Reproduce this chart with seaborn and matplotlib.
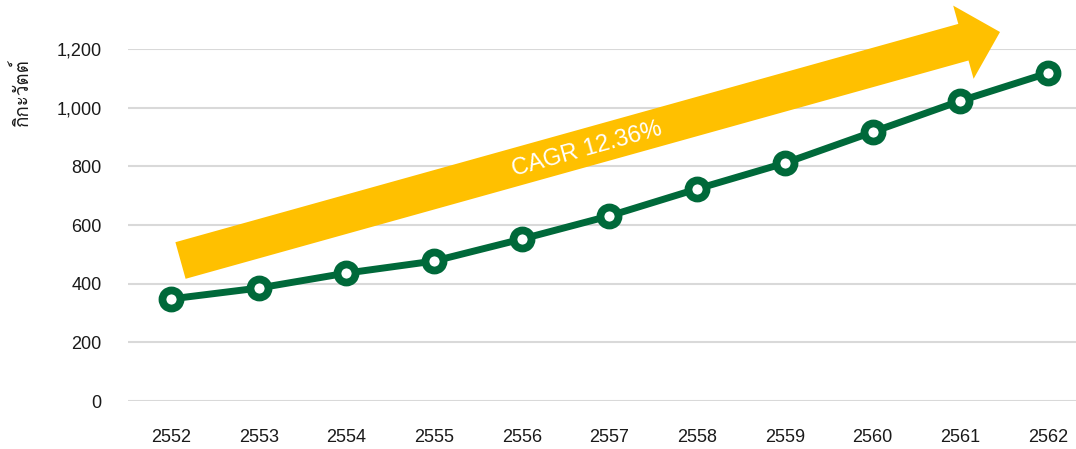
import numpy as np
import pandas as pd
import matplotlib
matplotlib.use("Agg")
import matplotlib.pyplot as plt
import seaborn as sns
from matplotlib import font_manager
from matplotlib.patches import Polygon

# ---- data ----
years = [2552, 2553, 2554, 2555, 2556, 2557, 2558, 2559, 2560, 2561, 2562]
values = [348, 385, 436, 477, 552, 631, 723, 811, 917, 1023, 1118]
y_ticks = [0, 200, 400, 600, 800, 1000, 1200]
y_label = "กิกะวัตต์"
cagr_label = "CAGR 12.36%"

# ---- find a font with Thai glyphs ----
thai_font = None
try:
    from fontTools.ttLib import TTFont
    for f in font_manager.fontManager.ttflist:
        try:
            tt = TTFont(f.fname, fontNumber=0, lazy=True)
            cmap = tt.getBestCmap()
            if cmap and 0x0E01 in cmap and 0x0E34 in cmap and 0x0E4C in cmap:
                thai_font = f.name
                break
        except Exception:
            pass
except Exception:
    pass

sns.set_style("white")
plt.rcParams['font.family'] = ['Liberation Sans', 'DejaVu Sans']

W, H = 1076, 449
fig = plt.figure(figsize=(W / 100, H / 100), dpi=100)
ax = fig.add_axes([128 / W, (H - 401) / H, 948 / W, 352 / H])

df = pd.DataFrame({"year": years, "value": values})

green = "#00693A"
sns.lineplot(data=df, x="year", y="value", ax=ax, color=green, linewidth=5,
             marker="o", markersize=13, markerfacecolor="white",
             markeredgecolor=green, markeredgewidth=5.6, clip_on=False, zorder=5)

ax.set_ylim(0, 1200)
ax.set_xlim(years[0] - 0.49, years[-1] + 0.32)
ax.set_yticks(y_ticks)
ax.set_yticklabels([f"{v:,}" for v in y_ticks])
ax.set_xticks(years)
ax.set_xticklabels([str(y) for y in years])
ax.grid(axis="y", color="#D9D9D9", linewidth=1.5)
ax.grid(axis="x", visible=False)
for s in ax.spines.values():
    s.set_visible(False)
ax.tick_params(axis="both", length=0, labelsize=13, colors="#1a1a1a")
ax.tick_params(axis="x", pad=20)
ax.tick_params(axis="y", pad=19)
ax.set_xlabel("")

fam = [thai_font, 'Liberation Sans', 'DejaVu Sans'] if thai_font else ['Liberation Sans', 'DejaVu Sans']
ax.set_ylabel(y_label, fontsize=13.5, color="#1a1a1a", family=fam)
ax.yaxis.set_label_coords(-0.101, 0.878)

# ---- yellow arrow annotation (pixel geometry -> figure fraction) ----
S = np.array([180.5, 260.5])
T = np.array([1000.0, 32.0])
u = (T - S) / np.linalg.norm(T - S)
n = np.array([u[1], -u[0]])
B = T - u * 38
pts = [S + n * 19, B + n * 19, B + n * 38, T, B - n * 38, B - n * 19, S - n * 19]
pts = [(p[0] / W, 1 - p[1] / H) for p in pts]
fig.patches.append(Polygon(pts, closed=True, facecolor="#FFC000", edgecolor="none",
                           transform=fig.transFigure, zorder=3))
angle = np.degrees(np.arctan2(S[1] - T[1], T[0] - S[0]))
fig.text(587 / W, 1 - 149 / H, cagr_label, color="white", fontsize=17,
         rotation=angle, rotation_mode="anchor", ha="center", va="center", zorder=4)

fig.savefig("out.png", dpi=100)
